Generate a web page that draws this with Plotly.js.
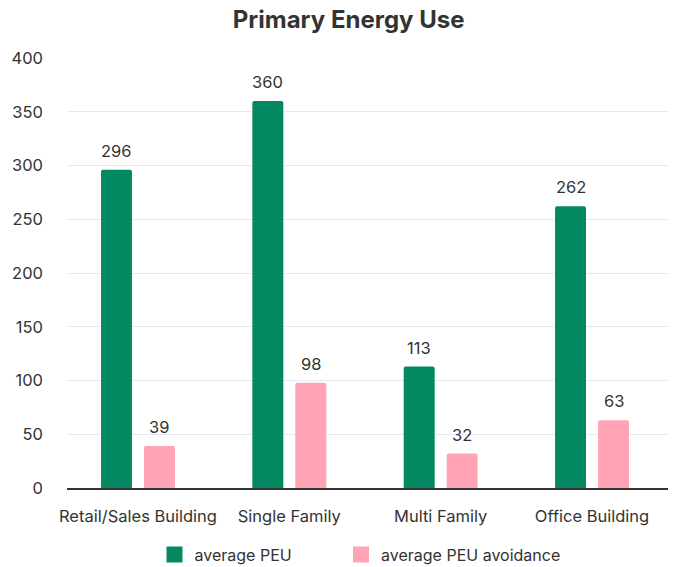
<!DOCTYPE html>
<html><head><meta charset="utf-8">
<script src="https://cdn.plot.ly/plotly-3.0.1.min.js"></script>
<style>html,body{margin:0;padding:0;background:#fff}</style>
</head><body>
<div id="chart" style="width:677px;height:567px"></div>
<script>
const categories = ["Retail/Sales Building", "Single Family", "Multi Family", "Office Building"];
const peu = [296, 360, 113, 262];
const peuAvoidance = [39, 98, 32, 63];
const seriesNames = ["average PEU", "average PEU avoidance"];
const colors = ["#038862", "#ffa3b5"];
const font = "Inter, 'Open Sans', sans-serif";
const txt = "#333";

const traces = [
  {type: "bar", x: categories, y: peu, name: seriesNames[0], showlegend: false,
   marker: {color: colors[0], cornerradius: 2}},
  {type: "bar", x: categories, y: peuAvoidance, name: seriesNames[1], showlegend: false,
   marker: {color: colors[1], cornerradius: 2}},
  {type: "scatter", mode: "markers", x: [null], y: [null], name: seriesNames[0], legend: "legend",
   marker: {symbol: "square", size: 18, color: colors[0]}},
  {type: "scatter", mode: "markers", x: [null], y: [null], name: seriesNames[1], legend: "legend2",
   marker: {symbol: "square", size: 18, color: colors[1]}}
];

const annotations = [];
[peu, peuAvoidance].forEach((arr, si) => {
  arr.forEach((v, i) => {
    annotations.push({x: categories[i], y: v, xref: "x", yref: "y", text: String(v),
      showarrow: false, xshift: si === 0 ? -21.5 : 21.5, yshift: 19,
      font: {family: font, size: 16.5, color: txt}});
  });
});

const legendBase = {orientation: "h", xref: "container", xanchor: "left",
  yref: "container", y: 0.022, yanchor: "middle",
  font: {family: font, size: 16, color: txt}, itemwidth: 26, itemsizing: "trace",
  bgcolor: "rgba(0,0,0,0)"};

const layout = {
  width: 677, height: 567,
  margin: {l: 67, r: 9, t: 58, b: 79, autoexpand: false},
  paper_bgcolor: "#fff", plot_bgcolor: "#fff",
  font: {family: font, size: 16.5, color: txt},
  title: {text: "<b>Primary Energy Use</b>", font: {family: font, size: 24, color: txt},
          xref: "container", x: 0.515, xanchor: "center", yref: "container", y: 0.966, yanchor: "middle"},
  barmode: "group", bargap: 0.432, bargroupgap: 0.28,
  xaxis: {type: "category", range: [-0.469, 3.502], showgrid: false, showline: true,
          linecolor: "#333", linewidth: 2, ticks: "", ticklabelstandoff: 12, automargin: false,
          tickfont: {family: font, size: 16.5, color: txt}, fixedrange: true},
  yaxis: {range: [0, 400], dtick: 50, showgrid: true, gridcolor: "#e6e9ef", gridwidth: 1,
          zeroline: false, showline: false, ticks: "", ticklabelstandoff: 23, automargin: false,
          tickfont: {family: font, size: 16.5, color: txt}, fixedrange: true},
  legend: Object.assign({}, legendBase, {x: 154.5 / 677}),
  legend2: Object.assign({}, legendBase, {x: 341 / 677}),
  annotations: annotations,
  showlegend: true
};

Plotly.newPlot("chart", traces, layout, {displayModeBar: false, staticPlot: true});
</script>
</body></html>
